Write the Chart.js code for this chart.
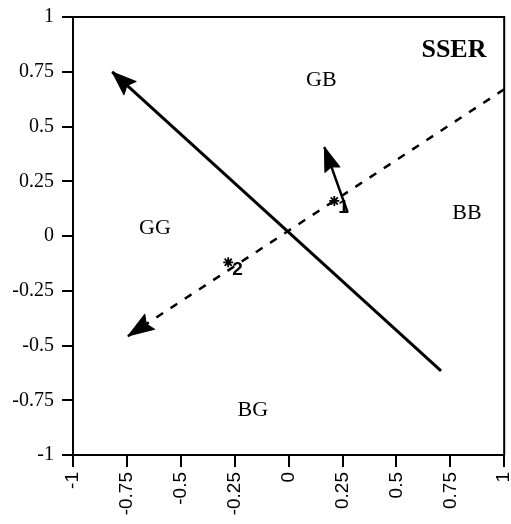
<!DOCTYPE html>
<html>
<head>
<meta charset="utf-8">
<script src="https://cdn.jsdelivr.net/npm/chart.js@4/dist/chart.umd.min.js"></script>
<style>
  html, body { margin: 0; padding: 0; background: #fff; }
  #wrap { width: 511px; height: 524px; }
</style>
</head>
<body>
<div id="wrap"><canvas id="c" width="511" height="524"></canvas></div>
<script>
// Axis ticks (both axes run from -1 to 1 in quarter steps)
const tickValues = [-1, -0.75, -0.5, -0.25, 0, 0.25, 0.5, 0.75, 1];

// Main solid vector: tail -> head
const solidX = [0.707, -0.818];
const solidY = [-0.616, 0.749];

// Dashed vector: tail (off the right edge) -> head
const dashX = [1.0, -0.745];
const dashY = [0.67, -0.457];

// Short vector: tail -> head
const shortX = [0.273, 0.166];
const shortY = [0.11, 0.406];

// Marked points with their numbers
const markX = [-0.28, 0.212];
const markY = [-0.12, 0.16];
const markNames = ['2', '1'];

// Quadrant labels
const quadNames = ['GB', 'GG', 'BB', 'BG'];
const quadX = [0.152, -0.62, 0.827, -0.166];
const quadY = [0.712, 0.037, 0.105, -0.795];

// Panel title
const panelTitle = 'SSER';
const panelX = 0.767;
const panelY = 0.85;

const pts = (xs, ys) => xs.map((x, i) => ({ x, y: ys[i] }));

const arrowPlugin = {
  id: 'arrowsAndText',
  afterDatasetsDraw(chart) {
    const ctx = chart.ctx;
    const xs = chart.scales.x, ys = chart.scales.y;
    const area = chart.chartArea;

    // frame: top and right edges
    ctx.save();
    ctx.strokeStyle = '#000';
    ctx.lineWidth = 2;
    ctx.beginPath();
    ctx.moveTo(area.left - 11, area.top);
    ctx.lineTo(area.right, area.top);
    ctx.lineTo(area.right, area.bottom);
    ctx.stroke();
    ctx.restore();

    // arrowheads at the last point of flagged datasets
    chart.data.datasets.forEach((ds) => {
      if (!ds.arrow) return;
      const n = ds.data.length;
      const a = ds.data[n - 2], b = ds.data[n - 1];
      const x1 = xs.getPixelForValue(a.x), y1 = ys.getPixelForValue(a.y);
      const x2 = xs.getPixelForValue(b.x), y2 = ys.getPixelForValue(b.y);
      const ang = Math.atan2(y2 - y1, x2 - x1);
      const L = ds.arrow.len, W = ds.arrow.half, N = ds.arrow.notch;
      ctx.save();
      ctx.translate(x2, y2);
      ctx.rotate(ang);
      ctx.fillStyle = '#000';
      ctx.strokeStyle = '#000';
      ctx.lineWidth = 1;
      ctx.lineJoin = 'round';
      ctx.beginPath();
      ctx.moveTo(0, 0);
      ctx.lineTo(-L, -W);
      ctx.lineTo(-L + N, 0);
      ctx.lineTo(-L, W);
      ctx.closePath();
      ctx.fill();
      ctx.stroke();
      ctx.restore();
    });

    // numbers beside the marked points
    ctx.save();
    ctx.fillStyle = '#000';
    ctx.font = 'bold 19px "Liberation Sans", Arial, sans-serif';
    ctx.textAlign = 'left';
    ctx.textBaseline = 'middle';
    markNames.forEach((t, i) => {
      const px = xs.getPixelForValue(markX[i]);
      const py = ys.getPixelForValue(markY[i]);
      ctx.fillText(t, px + 4, py + 7);
    });

    // quadrant labels
    ctx.font = '22px "Liberation Serif", "Times New Roman", serif';
    ctx.textAlign = 'center';
    quadNames.forEach((t, i) => {
      ctx.fillText(t, xs.getPixelForValue(quadX[i]), ys.getPixelForValue(quadY[i]));
    });

    // panel title
    ctx.font = 'bold 26px "Liberation Serif", "Times New Roman", serif';
    ctx.fillText(panelTitle, xs.getPixelForValue(panelX), ys.getPixelForValue(panelY));
    ctx.restore();
  }
};

new Chart(document.getElementById('c'), {
  type: 'scatter',
  data: {
    datasets: [
      {
        data: pts(solidX, solidY),
        showLine: true,
        borderColor: '#000',
        borderWidth: 3,
        pointRadius: 0,
        arrow: { len: 24, half: 9, notch: 4 }
      },
      {
        data: pts(dashX, dashY),
        showLine: true,
        borderColor: '#000',
        borderWidth: 2.5,
        borderDash: [8, 9],
        pointRadius: 0,
        arrow: { len: 26, half: 9, notch: 4 }
      },
      {
        data: pts(shortX, shortY),
        showLine: true,
        borderColor: '#000',
        borderWidth: 2.5,
        pointRadius: 0,
        arrow: { len: 24, half: 8, notch: 3 }
      },
      {
        data: pts(markX, markY),
        showLine: false,
        pointStyle: 'star',
        pointRadius: 5,
        borderColor: '#000',
        borderWidth: 1.8,
        backgroundColor: '#000'
      }
    ]
  },
  options: {
    responsive: false,
    animation: false,
    events: [],
    layout: { padding: { top: 17, right: 5, left: 0, bottom: 0 } },
    plugins: { legend: { display: false }, tooltip: { enabled: false } },
    scales: {
      x: {
        type: 'linear',
        min: -1, max: 1,
        afterBuildTicks: (s) => { s.ticks = tickValues.map(v => ({ value: v })); },
        afterFit: (s) => { s.height = 69; s.paddingLeft = 0; s.paddingRight = 0; },
        ticks: {
          color: '#000',
          font: { family: '"Liberation Sans", Arial, sans-serif', size: 19 },
          minRotation: 90, maxRotation: 90,
          padding: 5,
          callback: (v) => String(v)
        },
        grid: { drawOnChartArea: false, drawTicks: true, tickLength: 12, color: '#000', lineWidth: 2 },
        border: { display: true, color: '#000', width: 2 }
      },
      y: {
        type: 'linear',
        min: -1, max: 1,
        afterBuildTicks: (s) => { s.ticks = tickValues.map(v => ({ value: v })); },
        afterFit: (s) => { s.width = 73; s.paddingTop = 0; s.paddingBottom = 0; },
        ticks: {
          color: '#000',
          font: { family: '"Liberation Serif", "Times New Roman", serif', size: 20 },
          padding: 8,
          callback: (v) => String(v)
        },
        grid: { drawOnChartArea: false, drawTicks: true, tickLength: 11, color: '#000', lineWidth: 2 },
        border: { display: true, color: '#000', width: 2 }
      }
    }
  },
  plugins: [arrowPlugin]
});
</script>
</body>
</html>
